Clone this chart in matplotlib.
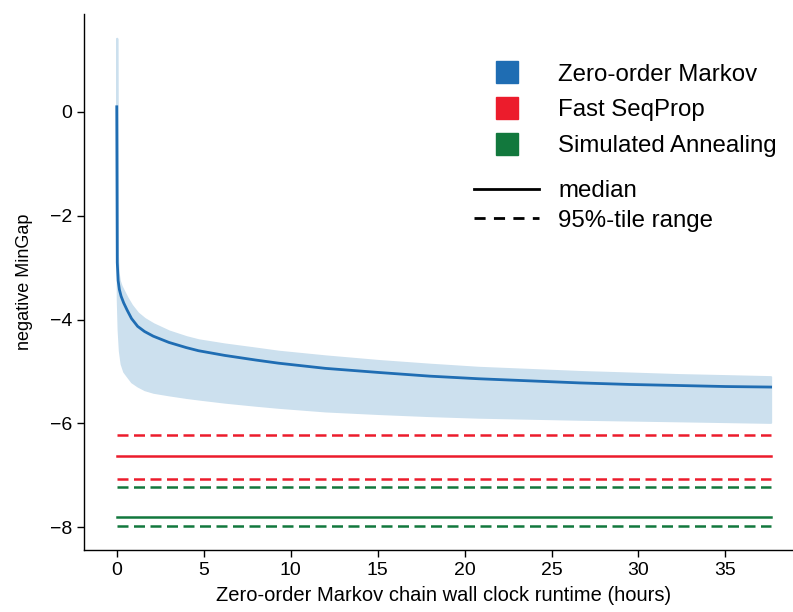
import matplotlib.pyplot as plt
from matplotlib.lines import Line2D

plt.rcParams['font.family'] = ['Liberation Sans', 'DejaVu Sans']

# zero-order Markov chain: runtime (hours) vs negative MinGap
hours = [0, 0.03, 0.08, 0.15, 0.25, 0.4, 0.6, 0.85, 1.2, 1.6, 2.1, 3, 4, 4.7, 6.2,
         8, 9.3, 12, 15.1, 18, 20.8, 23.7, 26.6, 29.5, 32.3, 35, 37.6]
markov_median = [0.1, -2.9, -3.25, -3.42, -3.55, -3.68, -3.82, -3.98, -4.13, -4.23,
                 -4.32, -4.44, -4.54, -4.60, -4.69, -4.78, -4.84, -4.94, -5.02,
                 -5.09, -5.14, -5.18, -5.22, -5.25, -5.27, -5.29, -5.30]
markov_upper = [1.42, -2.7, -3.1, -3.25, -3.35, -3.45, -3.58, -3.72, -3.87, -3.98,
                -4.08, -4.22, -4.33, -4.39, -4.47, -4.55, -4.61, -4.70, -4.79,
                -4.86, -4.92, -4.96, -5.00, -5.03, -5.06, -5.08, -5.10]
markov_lower = [0.1, -3.6, -4.2, -4.6, -4.85, -5.0, -5.09, -5.2, -5.28, -5.35,
                -5.4, -5.45, -5.50, -5.53, -5.59, -5.65, -5.69, -5.76, -5.81,
                -5.85, -5.88, -5.90, -5.92, -5.935, -5.95, -5.965, -5.98]

# baselines: (median, lower, upper)
fsp = [-6.63, -7.08, -6.22]
sa = [-7.81, -7.97, -7.22]

c_blue = '#1f6db3'
c_band = '#cce0ee'
c_red = '#ec1c2c'
c_green = '#12783d'

fig = plt.figure(figsize=(7.93, 6.12), dpi=100)
ax = fig.add_axes([0.106, 0.1013, 0.907, 0.876])

ax.fill_between(hours, markov_lower, markov_upper, facecolor=c_band,
                edgecolor=c_band, lw=1.5)
ax.plot(hours, markov_median, color=c_blue, lw=2.0)

span = [hours[0], hours[-1]]
for vals, c in [(fsp, c_red), (sa, c_green)]:
    ax.plot(span, [vals[0]] * 2, color=c, lw=1.8)
    for v in vals[1:]:
        ax.plot(span, [v] * 2, color=c, lw=1.8, dashes=(4.4, 2.2))

for s in ['top', 'right']:
    ax.spines[s].set_visible(False)
for s in ['left', 'bottom']:
    ax.spines[s].set_linewidth(1.0)
ax.set_yticks([0, -2, -4, -6, -8])
ax.set_xticks(range(0, 40, 5))
ax.tick_params(labelsize=14, length=5, width=1.0)
ax.set_ylabel('negative MinGap', fontsize=13, labelpad=12)
ax.set_xlabel('Zero-order Markov chain wall clock runtime (hours)', fontsize=14.5, labelpad=5)

method_handles = [Line2D([], [], ls='none', marker='s', markersize=16.5, color=c)
                  for c in [c_blue, c_red, c_green]]
leg1 = ax.legend(method_handles, ['Zero-order Markov', 'Fast SeqProp', 'Simulated Annealing'],
                 loc='upper left', bbox_to_anchor=(0.583, 0.9155), bbox_transform=fig.transFigure,
                 frameon=False, fontsize=17.3, handlelength=2.7, handletextpad=0.8,
                 labelspacing=0.57, borderpad=0)
ax.add_artist(leg1)

stat_handles = [Line2D([], [], color='black', lw=2.0),
                Line2D([], [], color='black', lw=2.0, dashes=(4, 3))]
ax.legend(stat_handles, ['median', '95%-tile range'],
          loc='upper left', bbox_to_anchor=(0.583, 0.725), bbox_transform=fig.transFigure,
          frameon=False, fontsize=17.3, handlelength=2.7, handletextpad=0.8,
          labelspacing=0.3, borderpad=0)

fig.savefig('out.png', dpi=100)
